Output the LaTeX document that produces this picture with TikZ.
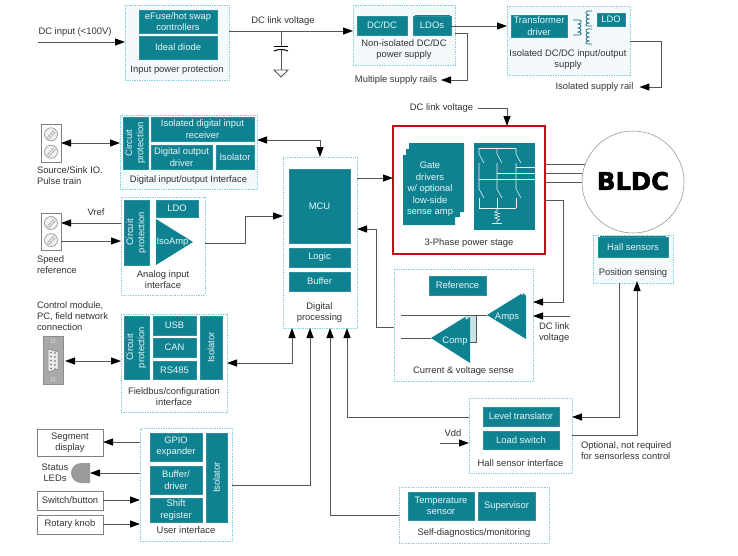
\documentclass[tikz,border=0pt]{standalone}
\usepackage{fontspec}
\usepackage{graphicx}
\setmainfont{Liberation Sans}
\newfontfamily\motorfont[BoldFeatures={FakeBold=2}]{DejaVu Sans}
\usetikzlibrary{arrows.meta}
\definecolor{teal1}{HTML}{0F8291}
\definecolor{teal2}{HTML}{2C8F9C}
\definecolor{dotc}{HTML}{86CFDD}
\definecolor{tint}{HTML}{F4FAFC}
\definecolor{txt}{HTML}{333333}
\definecolor{wire}{HTML}{555555}
\definecolor{tealtxt}{HTML}{EAF6F7}
\definecolor{redbox}{HTML}{C00D14}
\definecolor{devgray}{HTML}{9A9A9A}
\newcommand{\bx}[7][]{\node[#1,minimum width={#5-#3},minimum height={#6-#4}] (#2) at ({(#3+#5)/2},{(#4+#6)/2}) {#7};}
\newcommand{\vtwo}[2]{\rotatebox{90}{\begin{tabular}{@{}c@{}}#1\\#2\end{tabular}}}
\newcommand{\terminalblock}[4]{%
  \bx[plainbox]{#1}{#2}{#3}{#2+20}{#4}{}
  \foreach \fr in {0.27,0.73}{
    \pgfmathsetmacro\cy{#3+(#4-#3)*\fr}
    \draw[draw=devgray,fill=white!90!gray,line width=0.7pt] ({#2+10},\cy) circle (6.5);
    \draw[devgray,line width=0.6pt] ({#2+6},{\cy+3.5}) -- ({#2+13},{\cy-4});
    \draw[devgray,line width=0.6pt] ({#2+7.5},{\cy+5}) -- ({#2+14.5},{\cy-2.5});
  }}
\tikzset{
  base/.style={inner sep=0pt,outer sep=0pt,align=center,font=\fontsize{9.4}{11.3}\selectfont},
  lab/.style={base,text=txt},
  labl/.style={base,text=txt,align=left,anchor=west},
  blockbox/.style={base,fill=teal1,draw=teal2,line width=0.4pt,text=tealtxt},
  dotbox/.style={base,draw=dotc,densely dotted,line width=0.7pt,fill=white},
  dottint/.style={dotbox,fill=tint},
  plainbox/.style={base,draw=gray,fill=white,line width=0.9pt,text=txt},
  conn/.style={draw=wire,line width=1pt},
  arr/.style={conn,-{Triangle[length=10pt,width=7pt,color=black]}},
  darr/.style={conn,{Triangle[length=10pt,width=7pt,color=black]}-{Triangle[length=10pt,width=7pt,color=black]}},
  inw/.style={draw=tealtxt,line width=0.55pt}
}
\begin{document}
\begin{tikzpicture}[x=1pt,y=-1pt]
\useasboundingbox (0,0) rectangle (738,555);
\fill[white] (0,0) rectangle (738,555);

% dotted group boxes
\bx[dottint]{inp}{125}{5}{229}{80}{}
\bx[dottint]{nonis}{353}{5}{455}{65}{}
\bx[dottint]{iso}{507}{6}{630}{75}{}
\bx[dottint]{dio}{120}{115}{257}{189}{}
\bx[dotbox]{ana}{121}{197}{205}{295}{}
\bx[dotbox]{fld}{121}{314}{227}{412}{}
\bx[dotbox]{usr}{140}{428}{232}{541}{}
\bx[dotbox]{dig}{283}{157}{357}{328}{}
\bx[dotbox]{cvs}{394}{269}{533}{381}{}
\bx[dottint]{pos}{593}{235}{673}{283}{}
\bx[dotbox]{hif}{469}{398}{572}{473}{}
\bx[dotbox]{diag}{399}{487}{549}{543}{}

% input power
\bx[blockbox]{efuse}{139}{10}{217}{33}{eFuse/hot swap\\controllers}
\bx[blockbox]{diode}{139}{36}{217}{59}{Ideal diode}
\node[lab] (inpl) at (177,70) {Input power protection};
% non isolated
\bx[blockbox]{dcdc}{357}{16}{407}{35}{DC/DC}
\fill[teal1] (415,15.4) rectangle (450,20);
\bx[blockbox]{ldos}{413}{16}{451}{35}{LDOs}
\node[lab] (nonl) at (404,49.5) {Non-isolated DC/DC\\power supply};
% isolated
\bx[blockbox]{tdrv}{511}{15}{567}{37}{Transformer\\driver}
\bx[blockbox]{ldoi}{597}{13}{625}{26}{LDO}
\node[lab] (isol) at (568,59.5) {Isolated DC/DC input/output\\supply};
\draw[draw=teal1!80!black,line width=0.7pt] (573,20) -- (579,20)
  .. controls (582,20) and (582,24) .. (578,24) .. controls (582,24) and (582,28) .. (578,28)
  .. controls (582,28) and (582,32) .. (578,32) .. controls (582,32) and (582,35) .. (579,35) -- (573,35);
\foreach \ys in {11,29}{
  \draw[draw=teal1!80!black,line width=0.7pt] (592,\ys) -- (588,\ys)
  .. controls (585,\ys) and (585,\ys+4) .. (589,\ys+4) .. controls (585,\ys+4) and (585,\ys+8) .. (589,\ys+8)
  .. controls (585,\ys+8) and (585,\ys+12) .. (589,\ys+12) .. controls (585,\ys+12) and (585,\ys+15) .. (588,\ys+15) -- (592,\ys+15);
}

% digital IO
\bx[blockbox]{cp1}{123}{117}{148}{169}{\vtwo{Circuit}{protection}}
\bx[blockbox]{idr}{151}{117}{254}{141}{Isolated digital input\\receiver}
\bx[blockbox]{dod}{151}{145}{212}{169}{Digital output\\driver}
\bx[blockbox]{dis}{216}{145}{254}{169}{Isolator}
\node[lab] (diol) at (188.5,180) {Digital input/output Interface};
% analog
\bx[blockbox]{cp2}{124}{200}{149}{265}{\vtwo{Circuit}{protection}}
\bx[blockbox]{ldoa}{156}{200}{198}{217}{LDO}
\fill[teal1] (156,219) -- (193,242) -- (156,265) -- cycle;
\node[base,text=tealtxt] (isoamp) at (172.5,242) {IsoAmp};
\node[lab] (anal) at (163,279.5) {Analog input\\interface};
% fieldbus
\bx[blockbox]{cp3}{124}{316}{149}{379}{\vtwo{Circuit}{protection}}
\bx[blockbox]{usb}{153}{316}{196}{335}{USB}
\bx[blockbox]{can}{153}{338}{196}{357}{CAN}
\bx[blockbox]{rs}{153}{361}{196}{379}{RS485}
\bx[blockbox]{fis}{200}{316}{222}{379}{\rotatebox{90}{Isolator}}
\node[lab] (fldl) at (174,396.5) {Fieldbus/configuration\\interface};
% user
\bx[blockbox]{gpio}{150}{433}{202}{461}{GPIO\\expander}
\bx[blockbox]{buf}{150}{466}{202}{494}{Buffer/\\driver}
\bx[blockbox]{shift}{150}{498}{202}{522}{Shift\\register}
\bx[blockbox]{uis}{206}{433}{227}{522}{\rotatebox{90}{Isolator}}
\node[lab] (usrl) at (186,530.5) {User interface};
% digital
\bx[blockbox]{mcu}{289}{169}{350}{243}{MCU}
\bx[blockbox]{logic}{289}{248}{350}{267}{Logic}
\bx[blockbox]{buff}{289}{272}{350}{291}{Buffer}
\node[lab] (digl) at (319.5,312.5) {Digital\\processing};

% power stage
\bx[base,draw=redbox,line width=2.6pt,fill=white]{pwr}{393}{126}{545}{254}{}
\fill[teal1] (409,143) -- (464,143) -- (464,212) -- (460,212) -- (460,217) -- (455,217) -- (455,225) -- (403,225) -- (403,155) -- (406,155) -- (406,149) -- (409,149) -- cycle;
\node[base,text=tealtxt] (gate) at (430,189.5) {Gate\\[0.2pt]drivers\\[0.2pt]w/ optional\\[0.2pt]low-side\\[0.2pt]sense amp};
\bx[base,fill=teal1]{bridge}{474}{143}{535}{230}{}
\draw[inw] (479,148) -- (516,148);
\foreach \xs in {479,497,516}{
  \draw[inw] (\xs,148) -- (\xs,154) (\xs,154) -- (\xs+5,163);
  \draw[inw] (\xs,163) -- (\xs,189) -- (\xs+5,198);
  \draw[inw] (\xs,198) -- (\xs,208);
}
\draw[inw] (479,208) -- (516,208);
\draw[inw] (516,167) -- (535,167) (497,173) -- (535,173) (479,179) -- (535,179);
\draw[inw] (497,208) -- (497,211) -- (494.5,212) -- (499.5,213.5) -- (494.5,215) -- (499.5,216.5) -- (494.5,218) -- (499.5,219.5) -- (497,221) -- (497,223);
\draw[inw,line width=0.8pt] (492,223) -- (502,223);
\node[lab] (pwrl) at (469,243) {3-Phase power stage};

% motor wires, then motor over them
\coordinate (ph1) at (600,164);
\coordinate (ph2) at (600,173);
\coordinate (ph3) at (600,182);
\draw[conn] (pwr.east |- ph1) -- (ph1) (pwr.east |- ph2) -- (ph2) (pwr.east |- ph3) -- (ph3);
\node[circle,draw=gray!80,fill=white,line width=0.6pt,minimum size=102pt,inner sep=0pt,outer sep=0pt] (bldc) at (633,182) {};
\node[inner sep=0pt,font=\motorfont\fontsize{24.3}{26}\selectfont\bfseries,text=black] (bldct) at (633,181) {BLDC};

% position
\fill[teal1] (600,236.2) rectangle (666,245);
\bx[blockbox]{hall}{598}{237.5}{668}{257}{Hall sensors}
\node[lab] (posl) at (633,273) {Position sensing};

% current and voltage
\bx[blockbox]{ref}{429}{276}{486}{295}{Reference}
\coordinate (sa) at (401,315);
\coordinate (sb) at (401,338);
\fill[teal1,opacity=0.22] (465,316) rectangle (476,342);
\draw[conn] (sa) -- (487,315);
\draw[conn] (sb) -- (431,338);
\draw[conn] (476,315) -- (476,342) -- (470,342);
\fill[teal1] (487,315) -- (521,294) -- (523,295) -- (523,293) -- (526,296) -- (526,339) -- cycle;
\node[base,text=tealtxt] (amps) at (507,317) {Amps};
\fill[teal1] (431,338) -- (465,317) -- (466,320) -- (470,317) -- (470,363) -- cycle;
\node[base,text=tealtxt] (comp) at (455,341) {Comp};
\node[lab] (cvsl) at (463.5,371) {Current \& voltage sense};

% self diagnostics and hall interface
\bx[blockbox]{temp}{408}{492}{474}{520}{Temperature\\sensor}
\bx[blockbox]{sup}{478}{492}{535}{520}{Supervisor}
\node[lab] (diagl) at (474,533) {Self-diagnostics/monitoring};
\bx[blockbox]{lvl}{483}{407}{559}{426}{Level translator}
\bx[blockbox]{load}{483}{431}{559}{449}{Load switch}
\node[lab] (hifl) at (520.5,463) {Hall sensor interface};

% peripherals
\terminalblock{tb1}{41}{124}{162}
\terminalblock{tb2}{41}{213}{250}
\bx[base,draw=gray!90,fill=devgray!85,line width=0.8pt]{dsub}{43}{336}{63}{384}{}
\draw[gray,fill=white!85!gray,line width=0.5pt] (48,349) -- (58,352) -- (58,369) -- (48,372) -- cycle;
\foreach \ny in {353,357,361,365,369}{\fill[gray!80!black] (51,\ny-0.5) circle (0.8);\fill[gray!80!black] (55,\ny) circle (0.8);}
\draw[white!70!gray,line width=0.5pt] (53,341) circle (2) (53,379) circle (2);
\bx[plainbox]{seg}{37}{429}{103}{456}{Segment\\display}
\bx[plainbox]{sw}{37}{491}{103}{510}{Switch/button}
\bx[plainbox]{knob}{37}{515}{103}{534}{Rotary knob}
\fill[devgray] (90,463) -- (81,463) .. controls (75,463) and (71,468) .. (71,473) .. controls (71,478) and (75,483) .. (81,483) -- (90,483) -- cycle;
\coordinate (led) at (90,473);

% free labels
\node[lab] (dcinl) at (75,32) {DC input (<100V)};
\node[lab] (dcl1) at (283,21) {DC link voltage};
\node[lab] (rails) at (396,80) {Multiple supply rails};
\node[lab] (irail) at (594.5,87) {Isolated supply rail};
\node[lab] (dcl2) at (441.5,108) {DC link voltage};
\node[labl] (srcl) at (37,175.5) {Source/Sink IO.\\Pulse train};
\node[lab] (vref) at (96,212) {Vref};
\node[labl] (spdl) at (37,264.5) {Speed\\reference};
\node[labl] (ctll) at (37,316) {Control module,\\PC, field network\\connection};
\node[lab] (ledl) at (55,472.5) {Status\\LEDs};
\node[lab] (vdd) at (453,433) {Vdd};
\node[labl] (dclk) at (539,332.5) {DC link\\voltage};
\node[labl] (optl) at (581,450.5) {Optional, not required\\for sensorless control};

% ground and capacitor
\coordinate (capj) at (281,31);
\coordinate (capt) at (281,46);
\coordinate (capb) at (281,50);
\coordinate (gnd) at (281,70);
\draw[conn] (capj) -- (capt) (capb) -- (gnd);
\draw[black,line width=1pt] (274,46) -- (288,46);
\draw[black,line width=1pt] (274,51) .. controls (278,49) and (284,49) .. (288,51);
\draw[wire,line width=0.8pt] (274,70) -- (288,70) -- (281,77) -- cycle;

% free ends
\coordinate (dcin) at (38,42);
\coordinate (dcls) at (478,108);
\coordinate (dcin2) at (570,316);
\coordinate (vdds) at (440,443);

% connectors
\draw[arr] (dcin) -- (inp.west |- dcin);
\draw[arr] (inp.east |- capj) -- (nonis.west |- capj);
\draw[arr] (ldos.east |- 0,26) -- (iso.west |- 0,26);
\draw[arr] (nonis.east |- 0,33) -- (467,33) |- ([xshift=4pt]rails.east);
\draw[arr] (iso.east |- 0,41) -- (661,41) |- ([xshift=6pt]irail.east);
\draw[conn] (dcls) -- (507,108);
\draw[arr] (507,108) -- (pwr.north -| 507,0);
\draw[darr] (tb1.east |- 0,143) -- (dio.west |- 0,143);
\draw[darr] (dio.east |- 0,140) -| (dig.north -| 320,0);
\draw[arr] (ana.west |- 0,223) -- (tb2.east |- 0,223);
\draw[arr] (tb2.east |- 0,241) -- (ana.west |- 0,241);
\draw[arr] (ana.east |- 0,243) -- (245,243) |- (dig.west |- 0,216);
\draw[darr] ([xshift=2pt]dsub.east |- 0,361) -- (fld.west |- 0,361);
\draw[darr] (fld.east |- 0,363) -| (dig.south -| 292,0);
\draw[arr] (usr.east |- 0,485) -| (dig.south -| 310,0);
\draw[arr] (usr.west |- 0,442) -- (seg.east |- 0,442);
\draw[arr] (usr.west |- led) -- (led);
\draw[arr] (sw.east |- 0,500) -- (usr.west |- 0,500);
\draw[arr] (knob.east |- 0,524) -- (usr.west |- 0,524);
\draw[arr] (dig.east |- 0,178) -- (pwr.west |- 0,178);
\draw[arr] (cvs.west |- 0,327) -- (376,327) |- (dig.east |- 0,229);
\draw[arr] (pwr.east |- 0,200) -- (563,200) |- (cvs.east |- 0,302);
\draw[arr] (dcin2) -- (cvs.east |- dcin2);
\draw[arr] (hif.west |- 0,417) -| (dig.south -| 347,0);
\draw[arr] (diag.west |- 0,515) -| (dig.south -| 330,0);
\draw[arr] (pos.south -| 619,0) |- (hif.east |- 0,417);
\draw[arr] (hif.east |- 0,435) -| ([yshift=2pt]pos.south -| 637,0);
\draw[arr] (vdds) -- (hif.west |- vdds);
\end{tikzpicture}
\end{document}
